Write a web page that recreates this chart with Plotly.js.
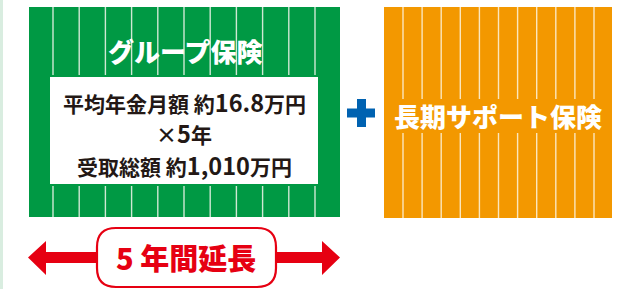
<!DOCTYPE html>
<html><head><meta charset="utf-8">
<script src="https://cdn.plot.ly/plotly-3.0.1.min.js"></script>
<style>html,body{margin:0;padding:0;background:#fff;}#chart{width:627px;height:289px;}</style>
</head><body><div id="chart"></div>
<script>
// ---- content / data ----
const groupTitle = "グループ保険";
const longTitle = "長期サポート保険";
const monthlyLabel = "平均年金月額";
const monthlyAmount = 16.8;      // 万円
const payoutYears = 5;           // 年
const totalLabel = "受取総額";
const totalAmount = 1010;        // 万円
const extensionYears = 5;
const extensionLabel = "年間延長";

// ---- styling ----
const GREEN = "#009944", ORANGE = "#f39800", RED = "#e60012", BLUE = "#0062b1", INK = "#231815";
const FONT = "Noto Sans CJK JP";
const shapes = [];
const rect = (x0,y0,x1,y1,fill,extra) => shapes.push(Object.assign({type:"rect",xref:"x",yref:"y",x0,y0,x1,y1,fillcolor:fill,line:{width:0},layer:"above"},extra||{}));
const vline = (x,y0,y1,color) => shapes.push({type:"line",xref:"x",yref:"y",x0:x,x1:x,y0,y1,line:{color,width:1.4},layer:"above"});

// left faint strip
rect(0,0,3,289,"#d9ede0");
// green box
rect(29,7,340,217,GREEN);
for (let i=0;i<11;i++){ const x=53+26.2*i; vline(x,7,75,"#cfe8d4"); vline(x,186,217,"#cfe8d4"); }
rect(50,77,318,184,"#ffffff");
// orange box
rect(384,7,612,218,ORANGE);
for (let i=0;i<11;i++){ const x=403+19.1*i; vline(x,7,99,"#fbe6bd"); vline(x,133,218,"#fbe6bd"); }
// plus
rect(357,99,366,127,BLUE);
rect(347,108.5,375,117.5,BLUE);
// arrows
shapes.push({type:"path",xref:"x",yref:"y",path:"M 28 257.5 L 46 241 L 46 252 L 100 252 L 100 263 L 46 263 L 46 275 Z",fillcolor:RED,line:{width:0},layer:"above"});
shapes.push({type:"path",xref:"x",yref:"y",path:"M 340 257.5 L 322 241 L 322 252 L 273 252 L 273 263 L 322 263 L 322 275 Z",fillcolor:RED,line:{width:0},layer:"above"});
// pill
shapes.push({type:"path",xref:"x",yref:"y",path:"M 116 228 H 257 Q 276 228 276 247 V 268 Q 276 287 257 287 H 116 Q 97 287 97 268 V 247 Q 97 228 116 228 Z",fillcolor:"#ffffff",line:{color:RED,width:2.2},layer:"above"});

const fmt = n => n.toLocaleString("en-US");
const big = s => `<span style="font-size:23.5px">${s}</span>`;
const ann = (x,y,text,size,color,weight) => ({x,y,xref:"x",yref:"y",text,showarrow:false,xanchor:"center",yanchor:"middle",font:{family:FONT,size,color,weight:weight||700}});
const annotations = [
  ann(185,50,groupTitle,26,"#ffffff",900),
  ann(498,115,longTitle,26,"#ffffff",900),
  ann(184,102,`${monthlyLabel} 約${big(monthlyAmount.toFixed(1))}万円`,21,INK),
  ann(184,133,`×${big(payoutYears)}年`,21,INK),
  ann(184,165,`${totalLabel} 約${big(fmt(totalAmount))}万円`,21,INK),
  ann(186,257,`${extensionYears} ${extensionLabel}`,29,RED,900)
];

const layout = {
  width:627,height:289,margin:{l:0,r:0,t:0,b:0},
  paper_bgcolor:"#ffffff",plot_bgcolor:"#ffffff",
  xaxis:{range:[0,627],visible:false,fixedrange:true},
  yaxis:{range:[289,0],visible:false,fixedrange:true},
  shapes,annotations,showlegend:false
};
Plotly.newPlot("chart",[{x:[],y:[],type:"scatter",mode:"markers",hoverinfo:"skip"}],layout,{staticPlot:true,displayModeBar:false});
</script></body></html>
